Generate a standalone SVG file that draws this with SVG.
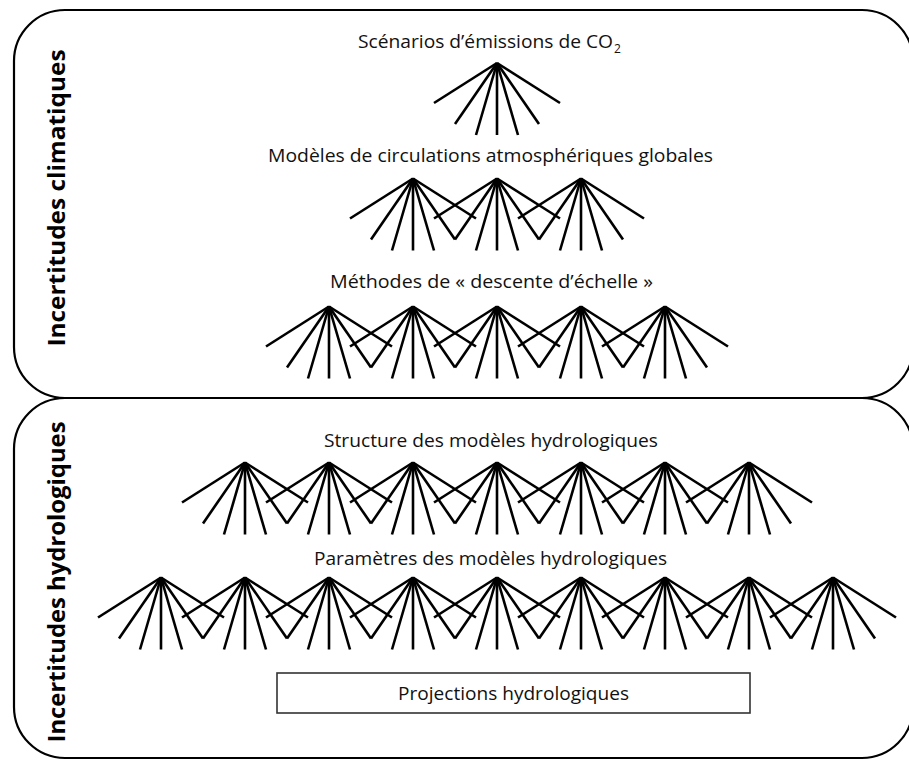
<svg xmlns="http://www.w3.org/2000/svg" xmlns:xlink="http://www.w3.org/1999/xlink" width="909" height="761" viewBox="0 0 909 761">
<style>
.panel{fill:#fff;stroke:#000;stroke-width:2.2}
.lbl{font-family:"Open Sans","Liberation Sans",sans-serif;font-size:18px;fill:#111}
.vlbl{font-family:"Open Sans","Liberation Sans",sans-serif;font-size:23px;font-weight:bold;fill:#000}
.fan line{stroke:#000;stroke-width:2.6}
.box{fill:#fff;stroke:#333;stroke-width:1.6}
</style>
<defs>
<g id="fan" class="fan">
<line x1="0" y1="0" x2="-63" y2="40"/>
<line x1="0" y1="0" x2="-42" y2="61"/>
<line x1="0" y1="0" x2="-21" y2="72"/>
<line x1="0" y1="0" x2="0" y2="72"/>
<line x1="0" y1="0" x2="21" y2="72"/>
<line x1="0" y1="0" x2="42" y2="61"/>
<line x1="0" y1="0" x2="63" y2="40"/>
</g>
</defs>
<rect width="909" height="761" fill="#fff"/>
<g id="panel-climat">
<rect class="panel" x="14" y="10" width="899" height="388" rx="51" ry="51"/>
<text class="vlbl" transform="translate(65,198) rotate(-90)" text-anchor="middle" textLength="297" lengthAdjust="spacingAndGlyphs">Incertitudes climatiques</text>
</g>
<g id="panel-hydro">
<rect class="panel" x="14" y="398" width="899" height="360" rx="51" ry="51"/>
<text class="vlbl" transform="translate(65,582) rotate(-90)" text-anchor="middle" textLength="321" lengthAdjust="spacingAndGlyphs">Incertitudes hydrologiques</text>
</g>
<g id="level-co2">
<text class="lbl" x="358" y="48" textLength="255" lengthAdjust="spacingAndGlyphs">Scénarios d’émissions de CO</text>
<text class="lbl" x="614" y="53" style="font-size:12px">2</text>
</g>
<g id="level-gcm">
<text class="lbl" x="268" y="162" textLength="445" lengthAdjust="spacingAndGlyphs">Modèles de circulations atmosphériques globales</text>
</g>
<g id="level-downscaling">
<text class="lbl" x="330" y="288" textLength="323" lengthAdjust="spacingAndGlyphs">Méthodes de « descente d’échelle »</text>
</g>
<g id="level-structure">
<text class="lbl" x="324" y="447" textLength="334" lengthAdjust="spacingAndGlyphs">Structure des modèles hydrologiques</text>
</g>
<g id="level-params">
<text class="lbl" x="314" y="565" textLength="353" lengthAdjust="spacingAndGlyphs">Paramètres des modèles hydrologiques</text>
</g>
<g id="projections">
<rect class="box" x="277" y="673" width="473" height="40"/>
<text class="lbl" x="398" y="700" textLength="231" lengthAdjust="spacingAndGlyphs">Projections hydrologiques</text>
</g>
<g id="connectors">
<use xlink:href="#fan" x="497" y="63"/>
<use xlink:href="#fan" x="413" y="178.5"/>
<use xlink:href="#fan" x="497" y="178.5"/>
<use xlink:href="#fan" x="581" y="178.5"/>
<use xlink:href="#fan" x="329" y="306.5"/>
<use xlink:href="#fan" x="413" y="306.5"/>
<use xlink:href="#fan" x="497" y="306.5"/>
<use xlink:href="#fan" x="581" y="306.5"/>
<use xlink:href="#fan" x="665" y="306.5"/>
<use xlink:href="#fan" x="245" y="462.5"/>
<use xlink:href="#fan" x="329" y="462.5"/>
<use xlink:href="#fan" x="413" y="462.5"/>
<use xlink:href="#fan" x="497" y="462.5"/>
<use xlink:href="#fan" x="581" y="462.5"/>
<use xlink:href="#fan" x="665" y="462.5"/>
<use xlink:href="#fan" x="749" y="462.5"/>
<use xlink:href="#fan" x="161" y="577.5"/>
<use xlink:href="#fan" x="245" y="577.5"/>
<use xlink:href="#fan" x="329" y="577.5"/>
<use xlink:href="#fan" x="413" y="577.5"/>
<use xlink:href="#fan" x="497" y="577.5"/>
<use xlink:href="#fan" x="581" y="577.5"/>
<use xlink:href="#fan" x="665" y="577.5"/>
<use xlink:href="#fan" x="749" y="577.5"/>
<use xlink:href="#fan" x="833" y="577.5"/>
</g>
</svg>
